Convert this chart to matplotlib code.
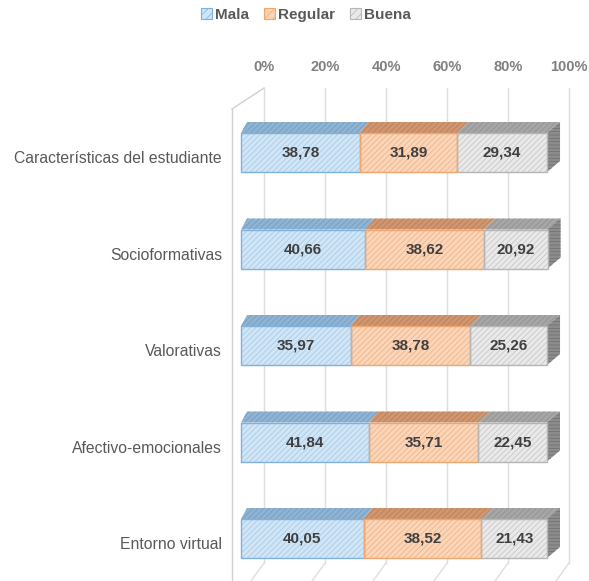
import matplotlib
matplotlib.use("Agg")
import matplotlib.pyplot as plt
from matplotlib.patches import Polygon, Patch
import numpy as np

plt.rcParams['font.family'] = ['Liberation Sans', 'DejaVu Sans']
plt.rcParams['hatch.linewidth'] = 0.5

categories = ["Características del estudiante", "Socioformativas", "Valorativas",
              "Afectivo-emocionales", "Entorno virtual"]
mala = [38.78, 40.66, 35.97, 41.84, 40.05]
regular = [31.89, 38.62, 38.78, 35.71, 38.52]
buena = [29.34, 20.92, 25.26, 22.45, 21.43]
series_names = ["Mala", "Regular", "Buena"]
tick_vals = [0, 20, 40, 60, 80, 100]
tick_labels = ["0%", "20%", "40%", "60%", "80%", "100%"]

W, H = 589, 581
fig = plt.figure(figsize=(W / 100, H / 100), dpi=100)
ax = fig.add_axes([0, 0, 1, 1])

# pixel mapping helpers (layout only)
PX_X0, PX_PER_X = 241.0, 3.06
PX_Y0, PX_PER_Y = 152.5, 96.5
ax.set_xlim((0 - PX_X0) / PX_PER_X, (W - PX_X0) / PX_PER_X)
ax.set_ylim((H - PX_Y0) / PX_PER_Y, (0 - PX_Y0) / PX_PER_Y)
ax.axis('off')

def ypx(p):
    return (p - PX_Y0) / PX_PER_Y

def xpx(p):
    return (p - PX_X0) / PX_PER_X

# --- back wall, side wall and floor ---
back_dx = xpx(264) - 0
grid_col = '#dedede'
wall_top = ypx(88)
wall_bot = ypx(563)
for t in tick_vals:
    xb = back_dx + t * (305 / 306)
    ax.plot([xb, xb], [wall_top, wall_bot], color=grid_col, lw=1, zorder=1)
    ax.plot([xb, xb - 13 / PX_PER_X], [wall_bot, wall_bot + 18 / PX_PER_Y],
            color=grid_col, lw=1, zorder=1)
ax.plot([xpx(232), xpx(232)], [ypx(109), ypx(581)], color='#d0d0d0', lw=1, zorder=1)
ax.plot([xpx(232), back_dx], [ypx(109), wall_top], color='#d0d0d0', lw=1, zorder=1)

for t, lab in zip(tick_vals, tick_labels):
    ax.text(back_dx + t * (305 / 306), ypx(67), lab, ha='center', va='center',
            fontsize=10.5, fontweight='bold', color='#808080')

# --- bars ---
face = ['#d0e5f6', '#fbd5b8', '#e9e9e9']
hatchc = ['#a3c6e3', '#eeae84', '#c2c2c2']
border = ['#7fb1da', '#f0a56f', '#b5b5b5']
topc = ['#8fb3d3', '#cf9670', '#a6a6a6']
toph = ['#7299bb', '#b57b56', '#8e8e8e']
sidec = '#8c8c8c'

bh = 39 / PX_PER_Y
depth_y = 11 / PX_PER_Y

def ddx(x):
    return (6 + 7 * x / 100) / PX_PER_X

ypos = np.arange(len(categories))
data = [mala, regular, buena]
left = np.zeros(len(categories))
for k, vals in enumerate(data):
    vals = np.array(vals)
    ax.barh(ypos, vals, left=left, height=bh, color=face[k], edgecolor=hatchc[k],
            hatch='//////', linewidth=0, zorder=3)
    ax.barh(ypos, vals, left=left, height=bh, fill=False, edgecolor=border[k],
            linewidth=1, zorder=4)
    for i in range(len(categories)):
        x0, x1 = left[i], left[i] + vals[i]
        yt = ypos[i] - bh / 2
        poly = Polygon([(x0, yt), (x1, yt), (x1 + ddx(x1), yt - depth_y),
                        (x0 + ddx(x0), yt - depth_y)], closed=True,
                       facecolor=topc[k], edgecolor=toph[k], hatch='//////',
                       linewidth=0, zorder=2.5)
        ax.add_patch(poly)
        ax.text((x0 + x1) / 2, ypos[i], f"{vals[i]:.2f}".replace('.', ','),
                ha='center', va='center', fontsize=11, fontweight='bold',
                color='#404040', zorder=5)
    left = left + vals

for i in range(len(categories)):
    xr = left[i]
    yt = ypos[i] - bh / 2
    yb = ypos[i] + bh / 2
    side = Polygon([(xr, yt), (xr + ddx(xr), yt - depth_y),
                    (xr + ddx(xr), yb - depth_y), (xr, yb)], closed=True,
                   facecolor=sidec, edgecolor='#6e6e6e', hatch='-----',
                   linewidth=0, zorder=2.5)
    ax.add_patch(side)
    ax.text(xpx(222), ypos[i] + 6 / PX_PER_Y, categories[i], ha='right', va='center',
            fontsize=11.3, color='#595959')

handles = [Patch(facecolor=face[k], edgecolor=border[k], hatch='////', linewidth=0.8)
           for k in range(3)]
leg = fig.legend(handles, series_names, loc='center', ncol=3,
                 bbox_to_anchor=(306 / W, 1 - 15 / H), frameon=False,
                 handlelength=0.7, handleheight=0.7, handletextpad=0.2,
                 columnspacing=1.0, prop={'size': 11, 'weight': 'bold'})
for t in leg.get_texts():
    t.set_color('#595959')

fig.savefig('out.png', dpi=100)
